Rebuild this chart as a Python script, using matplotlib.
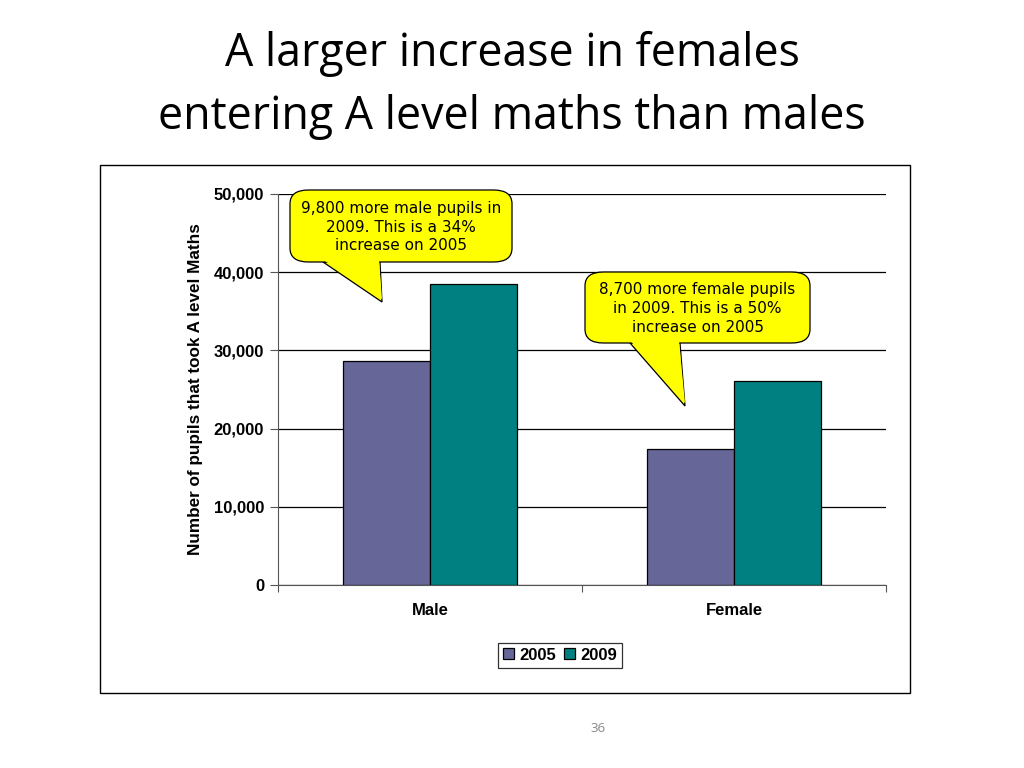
import numpy as np
import matplotlib
matplotlib.use("Agg")
import matplotlib.pyplot as plt
from matplotlib.patches import FancyBboxPatch, Polygon, Rectangle

# data
categories = ["Male", "Female"]
years = ["2005", "2009"]
pupils_2005 = [28700, 17400]
pupils_2009 = [38500, 26100]
colours = ["#666699", "#008080"]
callout_text = ["9,800 more male pupils in\n2009. This is a 34%\nincrease on 2005",
                "8,700 more female pupils\nin 2009. This is a 50%\nincrease on 2005"]

W, H = 1024, 768
fig = plt.figure(figsize=(W/100, H/100), dpi=100)

def fx(px):
    return px / W

def fy(py):
    return 1 - py / H

# title
fig.text(0.5, fy(54), "A larger increase in females", ha="center", va="center",
         fontsize=32.2, family="Open Sans", color="black")
fig.text(0.5, fy(117), "entering A level maths than males", ha="center", va="center",
         fontsize=32.2, family="Open Sans", color="black")

# outer chart border
fig.patches.append(Rectangle((fx(100), fy(693)), fx(810), 528/H, transform=fig.transFigure,
                             fill=False, edgecolor="black", linewidth=1.0))

ax = fig.add_axes([fx(278), fy(585), fx(608), 391/H])
x = np.arange(len(categories))
bw = 0.286
ax.bar(x - bw/2, pupils_2005, bw, color=colours[0], edgecolor="black", linewidth=0.9,
       label=years[0], zorder=3)
ax.bar(x + bw/2, pupils_2009, bw, color=colours[1], edgecolor="black", linewidth=0.9,
       label=years[1], zorder=3)

fs = 12
ax.set_xlim(-0.5, 1.5)
ax.set_ylim(0, 50000)
ax.set_yticks(np.arange(0, 50001, 10000))
ax.set_yticklabels([f"{v:,}" for v in range(0, 50001, 10000)],
                   fontsize=fs, fontweight="bold", family="Liberation Sans")
ax.yaxis.grid(True, color="black", linewidth=0.9, zorder=0)
ax.set_axisbelow(True)
ax.set_xticks([-0.5, 0.5, 1.5])
ax.set_xticklabels([])
ax.set_xticks(x, minor=True)
ax.set_xticklabels(categories, minor=True, fontsize=fs, fontweight="bold",
                   family="Liberation Sans")
ax.tick_params(axis="x", which="minor", length=0, pad=13)
ax.tick_params(axis="x", which="major", length=5, color="#555555")
ax.tick_params(axis="y", length=6, color="#555555", pad=4)
for s in ["top", "right"]:
    ax.spines[s].set_visible(False)
ax.spines["left"].set_color("#555555")
ax.spines["bottom"].set_color("#555555")
ax.set_ylabel("Number of pupils that took A level Maths", fontsize=12.3,
              fontweight="bold", family="Liberation Sans", labelpad=8)

leg = fig.legend(*ax.get_legend_handles_labels(), loc="center",
                 bbox_to_anchor=(fx(560), fy(655)), ncol=2, frameon=True,
                 fancybox=False, edgecolor="black", handlelength=0.65, handleheight=0.65,
                 handletextpad=0.3, columnspacing=0.5, borderpad=0.3,
                 prop={"family": "Liberation Sans", "weight": "bold", "size": fs})
leg.get_frame().set_linewidth(0.9)

# callouts (pixel geometry of boxes and pointers)
def callout(box, base, tip, text):
    x0, y0, x1, y1 = box
    tri = [(fx(base[0]), fy(y1)), (fx(tip[0]), fy(tip[1])), (fx(base[1]), fy(y1))]
    fig.patches.append(Polygon(tri, closed=True, transform=fig.transFigure,
                               facecolor="#FFFF00", edgecolor="black", linewidth=0.9, zorder=5))
    fig.patches.append(FancyBboxPatch((fx(x0), fy(y1)), fx(x1 - x0), (y1 - y0)/H,
                                      boxstyle="round,pad=0,rounding_size=0.018",
                                      transform=fig.transFigure, facecolor="#FFFF00",
                                      edgecolor="black", linewidth=0.9, zorder=6))
    inner = [(fx(base[0] + 0.5), fy(y1 - 2)), (fx(tip[0]), fy(tip[1] - 3)),
             (fx(base[1] - 1), fy(y1 - 2))]
    fig.patches.append(Polygon(inner, closed=True, transform=fig.transFigure,
                               facecolor="#FFFF00", edgecolor="none", zorder=7))
    fig.text(fx((x0 + x1)/2), fy((y0 + y1)/2 + 1), text, ha="center", va="center",
             fontsize=11, family="DejaVu Sans", linespacing=1.3, zorder=8)

callout((290, 190, 512, 262), (323, 380), (382, 302), callout_text[0])
callout((585, 272, 810, 343), (630, 680), (685, 406), callout_text[1])

fig.text(fx(598), fy(729), "36", ha="center", va="center", fontsize=9.5,
         color="#888888", family="Open Sans")

fig.savefig("out.png", dpi=100)
